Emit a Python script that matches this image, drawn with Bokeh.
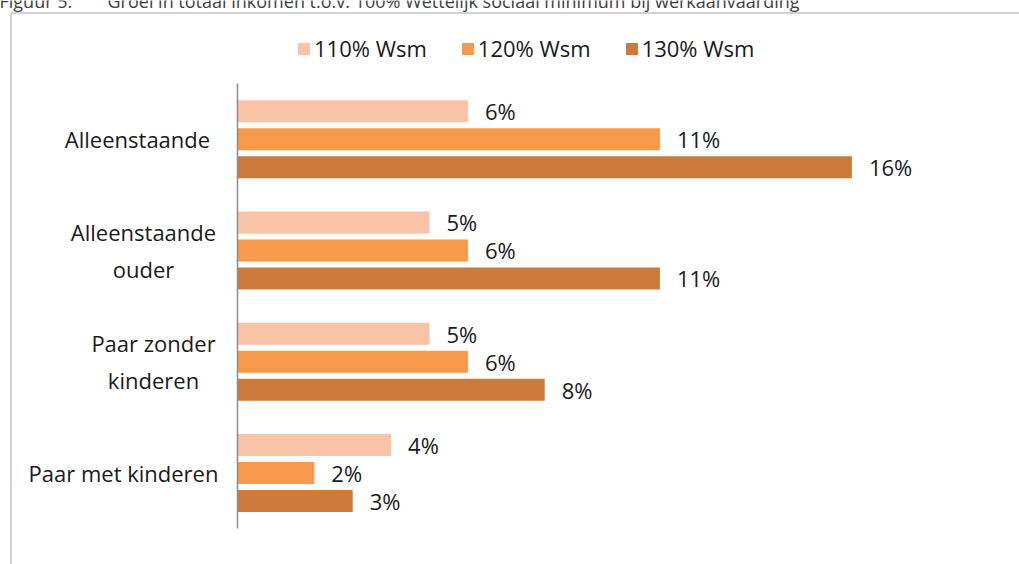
from bokeh.plotting import figure
from bokeh.models import Range1d, Legend, LegendItem
from bokeh.core.properties import value
from bokeh.embed import file_html
from bokeh.resources import INLINE

# ---- data ----
categories = ["Alleenstaande", "Alleenstaande ouder", "Paar zonder kinderen", "Paar met kinderen"]
category_lines = [["Alleenstaande"], ["Alleenstaande", "ouder"], ["Paar zonder", "kinderen"], ["Paar met kinderen"]]
series_names = ["110% Wsm", "120% Wsm", "130% Wsm"]
wsm_110 = [6, 5, 5, 4]
wsm_120 = [11, 6, 6, 2]
wsm_130 = [16, 11, 8, 3]
title_prefix = "Figuur 5:"
title_text = "Groei in totaal inkomen t.o.v. 100% Wettelijk sociaal minimum bij werkaanvaarding"

# ---- layout / style ----
W, H = 1019, 564
AX_X = 237.0
PX_PER_PCT = 38.4
AX_TOP, AX_BOTTOM = 83.0, 528.0
n = len(categories)
band = (AX_BOTTOM - AX_TOP) / n
colors = ["#F9C3A8", "#F79A4B", "#CB7B3B"]
offsets_px = [28, 0, -28]
bar_h_px = 22
label_center_px = [137, 143, 153, 123]
FONT = "Open Sans"


def fx(px):
    return (px - AX_X) / PX_PER_PCT


def fy(py):
    return (AX_BOTTOM - py) / band


p = figure(width=W, height=H,
           x_range=Range1d(fx(0), fx(W)), y_range=Range1d(fy(H), fy(0)),
           output_backend="svg", toolbar_location=None, min_border=0,
           x_axis_type=None, y_axis_type=None)
p.outline_line_color = None
p.grid.visible = False
p.background_fill_color = "white"

# frame border
p.line(x=[fx(10.5), fx(10.5), fx(W + 5)], y=[fy(H + 5), fy(12.5), fy(12.5)],
       line_color="#A6A6A6", line_width=1)

# title (partly above the visible area, as in the source)
p.text(x=[fx(-1), fx(107)], y=[fy(0.5), fy(0.5)], text=[title_prefix, title_text],
       text_font=value(FONT), text_font_size="18px", text_color="#404040",
       text_baseline="alphabetic", text_align="left")

centers = [n - 1 - i + 0.5 for i in range(n)]
series = [wsm_110, wsm_120, wsm_130]
renderers = []
for j, vals in enumerate(series):
    ys = [c + offsets_px[j] / band for c in centers]
    r = p.hbar(y=ys, left=0, right=vals, height=bar_h_px / band,
               fill_color=colors[j], line_color=None)
    renderers.append(r)
    p.text(x=[v + 17 / PX_PER_PCT for v in vals], y=ys, text=[f"{v}%" for v in vals],
           text_font=value(FONT), text_font_size="22px", text_color="#1A1A1A",
           text_baseline="middle", text_align="left")

# axis line
p.segment(x0=[0], y0=[0], x1=[0], y1=[n], line_color="#8C8C8C", line_width=1.5)

# category labels
lx, ly, lt = [], [], []
for i, lines in enumerate(category_lines):
    for k, line in enumerate(lines):
        lx.append(fx(label_center_px[i]))
        ly.append(centers[i] + ((len(lines) - 1) / 2 - k) * 37 / band)
        lt.append(line)
p.text(x=lx, y=ly, text=lt, text_font=value(FONT), text_font_size="22px",
       text_color="#1A1A1A", text_baseline="middle", text_align="center")

legend = Legend(items=[LegendItem(label=s, renderers=[r]) for s, r in zip(series_names, renderers)],
                orientation="horizontal", location=(296, 501),
                glyph_width=15, glyph_height=15, label_standoff=3, spacing=33,
                padding=0, margin=0, border_line_color=None, background_fill_alpha=0,
                label_text_font=FONT, label_text_font_size="22px", label_text_color="#1A1A1A")
p.add_layout(legend)

open("out.html", "w").write(file_html(p, INLINE))
